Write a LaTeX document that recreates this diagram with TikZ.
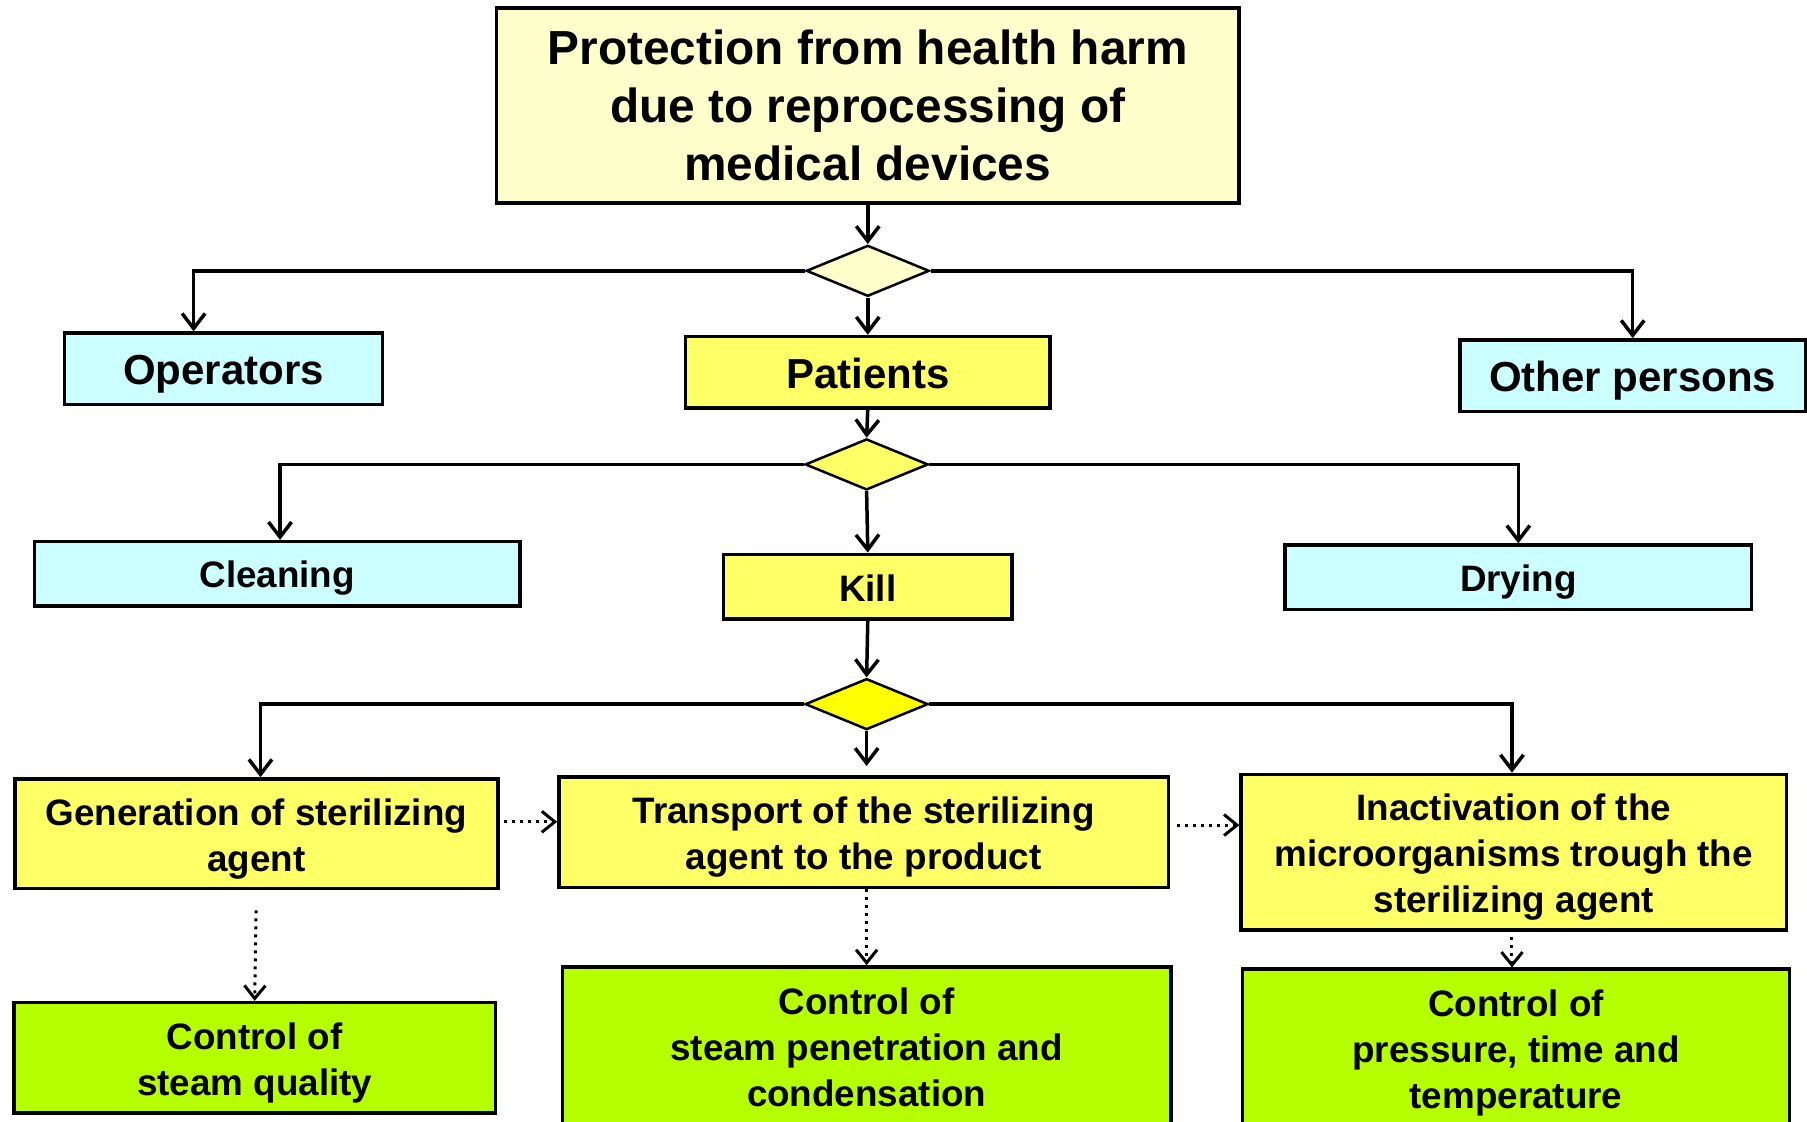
\documentclass[tikz,border=0pt]{standalone}
\usepackage{fontspec}
\setmainfont{Liberation Sans}
\usetikzlibrary{arrows.meta,shapes.geometric,calc}
\definecolor{ltyel}{HTML}{FFFFCC}
\definecolor{ltcyan}{HTML}{CCFFFF}
\definecolor{midyel}{HTML}{FFFF66}
\definecolor{fullyel}{HTML}{FFFF00}
\definecolor{lime}{HTML}{B5FF00}
\newcommand\lowr[1]{\rule{0pt}{#1}}
\begin{document}
\begin{tikzpicture}[x=1.1524pt,y=-1.1524pt,
  box/.style={draw, line width=3.5pt, inner sep=0pt, align=center,
    font=\bfseries\fontsize{36.8}{46}\selectfont},
  bigtxt/.style={font=\bfseries\fontsize{42}{50}\selectfont},
  titletxt/.style={font=\bfseries\fontsize{47.8}{57.6}\selectfont},
  dia/.style={diamond, draw, line width=2.5pt, inner sep=0pt, minimum width=123pt, minimum height=51pt},
  arr/.style={line width=3.5pt, -{Straight Barb[length=15pt,width=23pt]}},
  dotarr/.style={line width=3pt, dash pattern=on 3pt off 5pt, -{Straight Barb[length=13pt,width=21pt]}}]
\useasboundingbox (0,0) rectangle (1568,973.6);
\fill[white] (0,0) rectangle (1568,973.6);

% boxes
\node[box, titletxt, fill=ltyel, minimum width=742.1pt, minimum height=194.8pt] (top) at (753,91.5) {Protection from health harm\\due to reprocessing of\\medical devices};
\node[box, bigtxt, fill=ltcyan, minimum width=318.1pt, minimum height=71.4pt] (ops) at (194,320) {\lowr{39.5pt}Operators};
\node[box, bigtxt, fill=midyel, minimum width=364.2pt, minimum height=71.4pt] (pat) at (753,323) {\lowr{33pt}Patients};
\node[box, bigtxt, fill=ltcyan, minimum width=345.1pt, minimum height=71.4pt] (oth) at (1416.75,326) {\lowr{40pt}Other persons};
\node[box, fill=ltcyan, minimum width=485.2pt, minimum height=64.5pt] (cln) at (240.5,498) {\lowr{34pt}Cleaning};
\node[box, fill=midyel, minimum width=288.1pt, minimum height=64.5pt] (kill) at (753,509) {\lowr{29pt}Kill};
\node[box, fill=ltcyan, minimum width=466.7pt, minimum height=64.5pt] (dry) at (1317.5,501) {\lowr{37pt}Drying};
\node[box, fill=midyel, minimum width=482.9pt, minimum height=109.5pt] (gen) at (222.5,723.5) {\lowr{37pt}Generation of sterilizing\\agent};
\node[box, fill=midyel, minimum width=609.6pt, minimum height=110.6pt] (trans) at (749.5,722) {\lowr{36pt}Transport of the sterilizing\\agent to the product};
\node[box, fill=midyel, minimum width=545.1pt, minimum height=155.6pt] (ina) at (1313.5,739.5) {\lowr{37pt}Inactivation of the\\microorganisms trough the\\sterilizing agent};
\node[box, fill=lime, minimum width=481.7pt, minimum height=110.6pt] (cg1) at (221,918) {\lowr{37pt}Control of\\steam quality};
\node[box, fill=lime, minimum width=608.5pt, minimum height=157.9pt] (cg2) at (752,907.5) {\lowr{29pt}Control of\\steam penetration and\\condensation};
\node[box, fill=lime, minimum width=547.4pt, minimum height=155.6pt] (cg3) at (1315.5,908.5) {\lowr{38pt}Control of\\pressure, time and\\temperature};

% diamonds
\node[dia, fill=ltyel] (d1) at (753,235) {};
\node[dia, fill=midyel] (d2) at (752,403) {};
\node[dia, fill=fullyel] (d3) at (752,611) {};

\coordinate (c1) at (168,0);
\coordinate (c2) at (243,0);
\coordinate (c3) at (226,0);
\coordinate (c4) at (1312,0);

% solid connectors
\draw[arr] (top.south) -- (d1.north);
\draw[arr] (d1.west) -| (ops.north -| c1);
\draw[arr] (d1.east) -| (oth.north);
\draw[arr] (d1.south) -- (pat.north);
\draw[arr] (pat.south) -- (d2.north);
\draw[arr] (d2.west) -| (cln.north -| c2);
\draw[arr] (d2.east) -| (dry.north);
\draw[arr] (d2.south) -- (kill.north);
\draw[arr] (kill.south) -- (d3.north);
\draw[arr] (d3.west) -| (gen.north -| c3);
\draw[arr] (d3.east) -| (ina.north -| c4);
\draw[arr, shorten >=9pt] (d3.south) -- (trans.north -| d3.south);

% dotted connectors
\coordinate (g1) at ([yshift=12pt]gen.east);
\coordinate (t1) at ([yshift=7pt]trans.east);
\draw[dotarr, shorten <=4pt] (g1) -- (g1 -| trans.west);
\draw[dotarr, shorten <=7pt] (t1) -- (t1 -| ina.west);
\draw[dotarr, shorten <=20pt] (gen.south) -- (cg1.north);
\draw[dotarr] (trans.south -| cg2.north) -- (cg2.north);
\draw[dotarr, shorten <=5pt] (ina.south -| c4) -- (cg3.north -| c4);
\end{tikzpicture}
\end{document}
